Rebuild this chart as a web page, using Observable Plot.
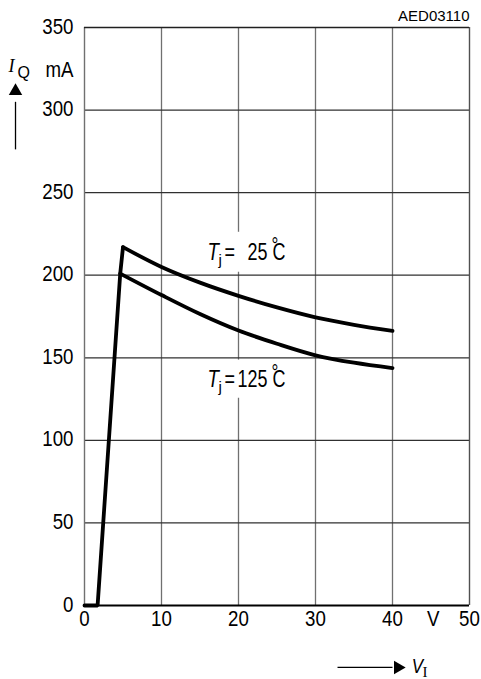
<!DOCTYPE html>
<html><head><meta charset="utf-8">
<script src="https://cdn.jsdelivr.net/npm/d3@7"></script>
<script src="https://cdn.jsdelivr.net/npm/@observablehq/plot@0.6"></script>
<style>
html,body{margin:0;padding:0;background:#fff;}
svg{display:block;}
</style>
</head><body><div id="chart"></div>
<script>
// ---- data ----
const xTicks = [0, 10, 20, 30, 40, 50];
const yTicks = [0, 50, 100, 150, 200, 250, 300, 350];
// start-up segment (common to both temperatures)
const startupV = [0, 1.7, 4.64, 5.0];
const startupI = [0, 0, 201, 217];
// Tj = 25 °C
const v25 = [5.0, 10, 15, 20, 25, 30, 35, 40];
const i25 = [217, 205, 195.5, 187.5, 180.5, 174.5, 170, 166.3];
// Tj = 125 °C
const v125 = [4.64, 10, 15, 20, 25, 30, 35, 40];
const i125 = [201, 188, 176.5, 166.5, 158.5, 151.5, 147, 143.8];
// curve labels
const labelNames = ["25", "125"];
const labelV = [15.97, 15.97];
const labelI = [209.1, 132.1];
const boxV1 = [15.6, 15.6], boxV2 = [27.0, 27.0];
const boxI1 = [201.8, 125.5], boxI2 = [226, 148.6];
// axis annotations (data units)
const yArrowV = [-8.96], yArrowI1 = [276.2], yArrowI2 = [305], yHeadI = [311.5];
const xArrowI = [-37.5], xArrowV1 = [32.86], xArrowV2 = [40.0], xHeadV = [40.7];

// font families (Liberation Sans, horizontally condensed afterwards for the narrow look)
const TICKF = "'Liberation Sans',sans-serif";          // condensed 0.85
const LABF  = "Liberation Sans,sans-serif";            // condensed 0.78
const SANS  = "'Liberation Sans',Arial,sans-serif";    // normal
const SERIF = "'Liberation Serif','Times New Roman',serif";
const squeeze = {[TICKF]: 0.85, [LABF]: 0.78};

const pts = (vs, is) => vs.map((v, k) => ({v, i: is[k]}));
const idx = [0, 1];
const lab = (text, o) => Plot.text(idx, {x: k => labelV[k], y: k => labelI[k], text, textAnchor: "start", lineAnchor: "bottom", fill: "#000", fontFamily: LABF, fontSize: 23, ...o});

const plot = Plot.plot({
  width: 481, height: 679,
  marginLeft: 84, marginRight: 12, marginTop: 27, marginBottom: 74,
  x: {domain: [0, 50], axis: null},
  y: {domain: [0, 350], axis: null},
  style: {background: "#fff", fontFamily: SANS, color: "#000"},
  marks: [
    // grid
    Plot.ruleX(xTicks.filter(d => d > 0 && d < 50), {x: d => d, stroke: "#707070", strokeWidth: 1.3}),
    Plot.ruleY(yTicks.filter(d => d > 0 && d < 350), {y: d => d, stroke: "#303030", strokeWidth: 1.3}),
    // label backgrounds
    Plot.rect(idx, {x1: k => boxV1[k], x2: k => boxV2[k], y1: k => boxI1[k], y2: k => boxI2[k], fill: "#fff"}),
    // frame
    Plot.ruleX([0], {stroke: "#707070", strokeWidth: 1.4}),
    Plot.ruleX([50], {stroke: "#505050", strokeWidth: 1.4}),
    Plot.ruleY([350], {stroke: "#202020", strokeWidth: 1.4}),
    Plot.ruleY([0], {stroke: "#000", strokeWidth: 1.8}),
    // curves
    Plot.line(pts(startupV, startupI), {x: "v", y: "i", stroke: "#000", strokeWidth: 3.8, strokeLinejoin: "miter"}),
    Plot.line(pts(v25, i25), {x: "v", y: "i", stroke: "#000", strokeWidth: 3.8, curve: "monotone-x"}),
    Plot.line(pts(v125, i125), {x: "v", y: "i", stroke: "#000", strokeWidth: 3.8, curve: "monotone-x"}),
    // tick labels
    Plot.text(xTicks, {x: d => d, frameAnchor: "bottom", dy: 20, text: d => String(d), fontFamily: TICKF, fontSize: 22, fill: "#000"}),
    Plot.text(yTicks, {y: d => d, frameAnchor: "left", dx: -11, dy: -1, textAnchor: "end", text: d => String(d), fontFamily: TICKF, fontSize: 22, fill: "#000"}),
    Plot.text(["V"], {x: 45.3, frameAnchor: "bottom", dy: 20, text: d => d, fontFamily: TICKF, fontSize: 22, fill: "#000"}),
    Plot.text(["mA"], {y: 324, frameAnchor: "left", dx: -11, textAnchor: "end", text: d => d, fontFamily: TICKF, fontSize: 22, fill: "#000"}),
    // y axis title I_Q with arrow
    Plot.text(["I"], {x: -9.87, y: 323.0, textAnchor: "start", lineAnchor: "bottom", text: d => d, fontFamily: SERIF, fontStyle: "italic", fontSize: 18, fill: "#000"}),
    Plot.text(["Q"], {x: -8.7, y: 319.5, textAnchor: "start", lineAnchor: "bottom", text: d => d, fontFamily: SANS, fontSize: 16, fill: "#000"}),
    Plot.link(yArrowV, {x1: d => d, x2: d => d, y1: (d, k) => yArrowI1[k], y2: (d, k) => yArrowI2[k], stroke: "#000", strokeWidth: 1.3}),
    Plot.dot(yArrowV, {x: d => d, y: (d, k) => yHeadI[k], symbol: "triangle", r: 5, fill: "#000", stroke: null}),
    // x axis title V_I with arrow
    Plot.link(xArrowI, {y1: d => d, y2: d => d, x1: (d, k) => xArrowV1[k], x2: (d, k) => xArrowV2[k], stroke: "#000", strokeWidth: 1.3}),
    Plot.dot(xArrowI, {y: d => d, x: (d, k) => xHeadV[k], symbol: "triangle", rotate: 90, r: 5, fill: "#000", stroke: null}),
    Plot.text(["V"], {x: 42.5, y: -41.0, textAnchor: "start", lineAnchor: "bottom", text: d => d, fontFamily: TICKF, fontStyle: "italic", fontSize: 20, fill: "#000"}),
    Plot.text(["I"], {x: 43.9, y: -43.4, textAnchor: "start", lineAnchor: "bottom", text: d => d, fontFamily: SERIF, fontSize: 15, fill: "#000"}),
    // drawing number
    Plot.text(["AED03110"], {frameAnchor: "top-right", dy: -7, lineAnchor: "bottom", textAnchor: "end", text: d => d, fontFamily: SANS, fontSize: 15, fill: "#000"}),
    // curve labels: T_j = xx °C
    lab(() => "T", {fontStyle: "italic", fontSize: 24}),
    lab(() => "j", {dx: 11, dy: 5, fontFamily: SANS, fontSize: 15}),
    lab(() => "=", {dx: 17}),
    lab(k => labelNames[k], {dx: 60, textAnchor: "end"}),
    lab(() => "°", {dx: 64, dy: -7, fontSize: 22}),
    lab(() => "C", {dx: 65})
  ]
});
document.getElementById("chart").appendChild(plot);
// condense the Helvetica-Narrow-like texts horizontally (keeps their anchors)
plot.querySelectorAll("text").forEach(t => {
  const g = t.closest("[font-family]");
  const s = g ? squeeze[g.getAttribute("font-family")] : undefined;
  if (!s) return;
  const w = t.getComputedTextLength();
  if (w > 0) {
    t.setAttribute("textLength", (w * s).toFixed(2));
    t.setAttribute("lengthAdjust", "spacingAndGlyphs");
  }
});
</script>
</body></html>
